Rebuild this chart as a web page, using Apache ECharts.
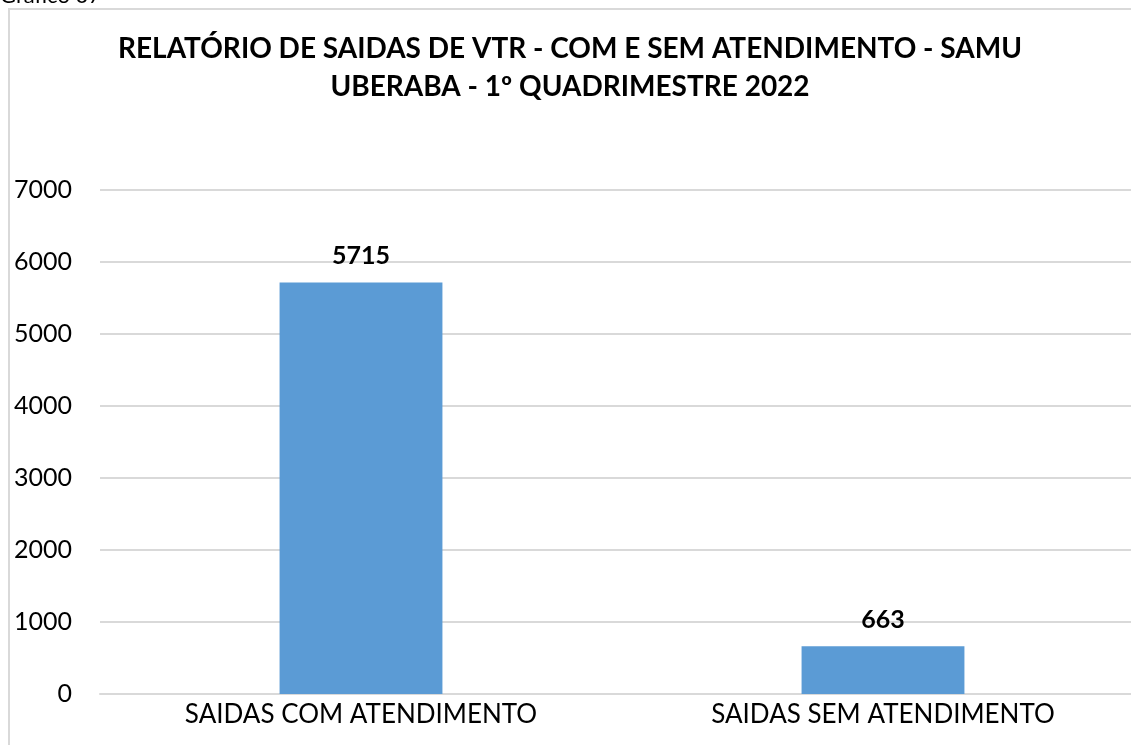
<!DOCTYPE html>
<html>
<head>
<meta charset="utf-8">
<script src="https://cdn.jsdelivr.net/npm/echarts@6/dist/echarts.min.js"></script>
<style>
  html, body { margin: 0; padding: 0; background: #fff; overflow: hidden; }
  #chart { width: 1160px; height: 745px; }
</style>
</head>
<body>
<div id="chart"></div>
<script>
const categories = ['SAIDAS COM ATENDIMENTO', 'SAIDAS SEM ATENDIMENTO']
const saidas = [5715, 663]
const yTicks = [0, 1000, 2000, 3000, 4000, 5000, 6000, 7000]

const fontFamily = 'Lato, "Open Sans", sans-serif'

const myChart = echarts.init(document.getElementById('chart'))
const option = {
  backgroundColor: '#fff',
  animation: false,
  title: {
    text: 'RELATÓRIO DE SAIDAS DE VTR - COM E SEM ATENDIMENTO - SAMU\nUBERABA - 1º QUADRIMESTRE 2022',
    left: 565,
    top: 25,
    textAlign: 'center',
    textStyle: {
      fontFamily: fontFamily,
      fontSize: 28,
      fontWeight: 'bold',
      color: '#000',
      lineHeight: 38
    }
  },
  graphic: [
    {
      type: 'text',
      left: 0,
      top: -15,
      style: { text: 'Gráfico 07', font: '22px ' + fontFamily, fill: '#000' }
    },
    {
      type: 'rect',
      shape: { x: 9, y: 9, width: 1200, height: 800 },
      style: { fill: 'none', stroke: '#d9d9d9', lineWidth: 2 },
      silent: true
    }
  ],
  grid: {
    left: 100,
    right: 16,
    top: 190,
    bottom: 51,
    containLabel: false
  },
  xAxis: {
    type: 'category',
    data: categories,
    axisLine: { lineStyle: { color: '#d9d9d9', width: 2 } },
    axisTick: { show: false },
    axisLabel: {
      color: '#000',
      fontFamily: fontFamily,
      fontSize: 26,
      margin: 8
    }
  },
  yAxis: {
    type: 'value',
    min: yTicks[0],
    max: yTicks[yTicks.length - 1],
    interval: 1000,
    axisLine: { show: false },
    axisTick: { show: false },
    axisLabel: {
      color: '#000',
      fontFamily: fontFamily,
      fontSize: 25,
      margin: 28,
      formatter: value => String(value)
    },
    splitLine: { lineStyle: { color: '#d9d9d9', width: 2 } }
  },
  series: [{
    type: 'bar',
    data: saidas,
    barWidth: '31.2%',
    itemStyle: { color: '#5b9bd5' },
    label: {
      show: true,
      position: 'top',
      distance: 14,
      color: '#000',
      fontFamily: fontFamily,
      fontSize: 25,
      fontWeight: 'bold'
    }
  }]
}
myChart.setOption(option)
window.addEventListener('resize', () => {
  myChart.resize()
}, false)
</script>
</body>
</html>
